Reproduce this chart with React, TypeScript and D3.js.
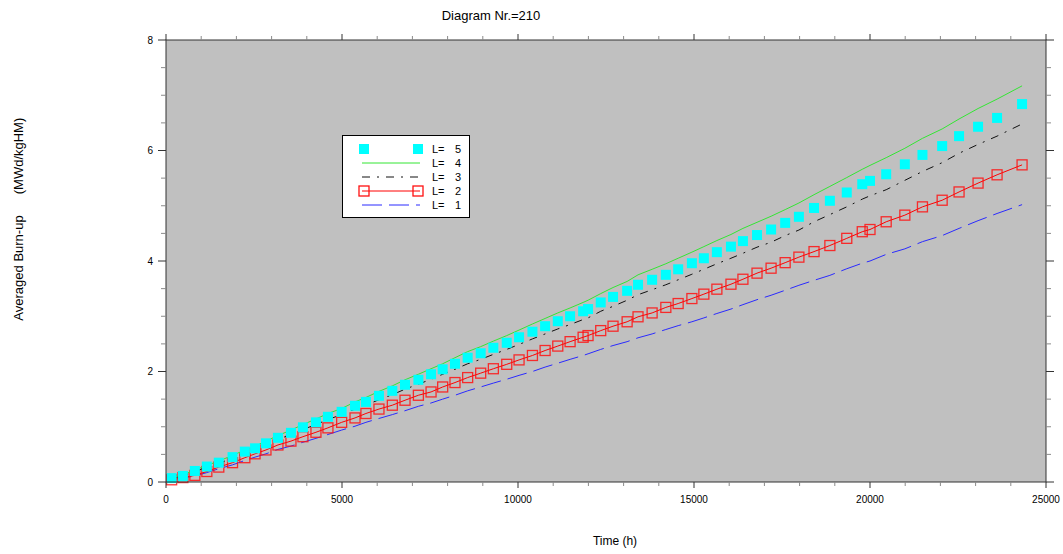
import React from "react";
import * as d3 from "d3";

// time steps (h), shared by all series
const time = [160, 480, 820, 1160, 1500, 1890, 2240, 2530, 2840, 3180,
  3550, 3890, 4260, 4600, 4990, 5370, 5680, 6050, 6430, 6790,
  7170, 7530, 7860, 8210, 8570, 8940, 9300, 9680, 10030, 10410,
  10770, 11130, 11480, 11850, 11990, 12350, 12700, 13100, 13410, 13810,
  14200, 14550, 14940, 15280, 15650, 16050, 16390, 16790, 17190, 17590,
  17980, 18410, 18860, 19340, 19780, 20000, 20460, 20990, 21490, 22050,
  22530, 23070, 23610, 24320];

const burnL5 = [0.07, 0.11, 0.20, 0.28, 0.35, 0.45, 0.55, 0.61, 0.70, 0.80,
  0.89, 0.99, 1.08, 1.18, 1.27, 1.38, 1.45, 1.56, 1.65, 1.76,
  1.85, 1.95, 2.04, 2.14, 2.25, 2.33, 2.43, 2.52, 2.62, 2.72,
  2.82, 2.91, 3.00, 3.09, 3.13, 3.25, 3.35, 3.46, 3.57, 3.66,
  3.75, 3.85, 3.96, 4.05, 4.16, 4.26, 4.36, 4.47, 4.57, 4.69,
  4.80, 4.96, 5.09, 5.24, 5.39, 5.45, 5.57, 5.75, 5.92, 6.08,
  6.26, 6.43, 6.59, 6.84];

const burnL4 = [0.08, 0.13, 0.22, 0.30, 0.38, 0.48, 0.58, 0.65, 0.74, 0.84,
  0.94, 1.04, 1.14, 1.24, 1.33, 1.45, 1.53, 1.64, 1.74, 1.85,
  1.95, 2.05, 2.14, 2.25, 2.36, 2.45, 2.55, 2.65, 2.75, 2.86,
  2.96, 3.06, 3.15, 3.25, 3.29, 3.41, 3.52, 3.63, 3.75, 3.85,
  3.95, 4.05, 4.16, 4.26, 4.37, 4.48, 4.59, 4.70, 4.81, 4.93,
  5.05, 5.20, 5.35, 5.51, 5.66, 5.73, 5.87, 6.04, 6.22, 6.39,
  6.57, 6.76, 6.93, 7.17];

const burnL3 = [0.07, 0.11, 0.19, 0.27, 0.34, 0.43, 0.53, 0.59, 0.67, 0.77,
  0.86, 0.95, 1.04, 1.13, 1.22, 1.32, 1.39, 1.49, 1.58, 1.68,
  1.77, 1.86, 1.95, 2.04, 2.14, 2.22, 2.31, 2.40, 2.49, 2.59,
  2.68, 2.77, 2.85, 2.94, 2.97, 3.09, 3.18, 3.29, 3.39, 3.48,
  3.57, 3.66, 3.76, 3.85, 3.95, 4.05, 4.14, 4.25, 4.34, 4.46,
  4.56, 4.71, 4.84, 4.98, 5.12, 5.18, 5.29, 5.46, 5.62, 5.78,
  5.95, 6.11, 6.26, 6.48];

const burnL2 = [0.04, 0.08, 0.12, 0.19, 0.27, 0.35, 0.44, 0.51, 0.58, 0.67,
  0.74, 0.82, 0.90, 0.98, 1.08, 1.16, 1.24, 1.32, 1.39, 1.48,
  1.57, 1.63, 1.72, 1.80, 1.89, 1.97, 2.05, 2.13, 2.21, 2.29,
  2.38, 2.46, 2.54, 2.62, 2.65, 2.74, 2.82, 2.90, 2.99, 3.06,
  3.16, 3.23, 3.32, 3.40, 3.49, 3.58, 3.67, 3.78, 3.87, 3.97,
  4.07, 4.17, 4.28, 4.41, 4.53, 4.57, 4.71, 4.83, 4.98, 5.10,
  5.25, 5.41, 5.56, 5.74];

const burnL1 = [0.04, 0.07, 0.11, 0.17, 0.24, 0.31, 0.39, 0.45, 0.51, 0.59,
  0.65, 0.72, 0.79, 0.86, 0.94, 1.01, 1.08, 1.15, 1.22, 1.29,
  1.37, 1.43, 1.50, 1.57, 1.65, 1.72, 1.79, 1.86, 1.93, 2.00,
  2.08, 2.15, 2.22, 2.29, 2.32, 2.40, 2.47, 2.54, 2.61, 2.68,
  2.76, 2.83, 2.90, 2.97, 3.05, 3.13, 3.21, 3.30, 3.38, 3.47,
  3.56, 3.65, 3.74, 3.86, 3.96, 4.00, 4.12, 4.22, 4.35, 4.46,
  4.59, 4.73, 4.86, 5.02];

const xTicks = [0, 5000, 10000, 15000, 20000, 25000];
const yTicks = [0, 2, 4, 6, 8];
const legendLabels = ["5", "4", "3", "2", "1"];

const W = 1063, H = 554;
const margin = { top: 40, left: 166, right: 17, bottom: 72 };
const FONT = "'Liberation Sans', Arial, sans-serif";

export default function App() {
  const x = d3.scaleLinear().domain([0, 25000]).range([margin.left, W - margin.right]);
  const y = d3.scaleLinear().domain([0, 8]).range([H - margin.bottom, margin.top]);
  const x0 = x.range()[0], x1 = x.range()[1];
  const y0 = y.range()[0], y1 = y.range()[1];

  const line = (vals: number[]) =>
    d3.line<number>().x((d, i) => x(time[i])).y(d => y(d))(vals) || "";

  const xMinor = d3.range(0, 25001, 1000);
  const yMinor = d3.range(0, 8.01, 0.5);
  const sq = 10;

  // legend placement
  const lg = { x: 342.5, y: 135.5, w: 127, h: 82, row: 14, first: 149, l0: 362, l1: 420 };

  return (
    <svg width={W} height={H} style={{ position: "absolute", left: 0, top: 0, background: "#fff" }}
      fontFamily={FONT}>
      <text x={491} y={20} fontSize={13} textAnchor="middle" fill="#000">Diagram Nr.=210</text>

      <rect x={x0} y={y1} width={x1 - x0} height={y0 - y1} fill="#c0c0c0" />

      {/* series */}
      <path d={line(burnL1)} fill="none" stroke="#2a2aff" strokeWidth={1} strokeDasharray="20,7" />
      <path d={line(burnL2)} fill="none" stroke="#ff0000" strokeWidth={1} />
      {burnL2.map((v, i) => (
        <rect key={"r" + i} x={x(time[i]) - sq / 2} y={y(v) - sq / 2} width={sq} height={sq}
          fill="none" stroke="#ff1010" strokeWidth={1.3} strokeOpacity={0.85} />
      ))}
      <path d={line(burnL3)} fill="none" stroke="#111" strokeWidth={1} strokeDasharray="8,7,2,7" />
      <path d={line(burnL4)} fill="none" stroke="#33e633" strokeWidth={1} />
      {burnL5.map((v, i) => (
        <rect key={"c" + i} x={x(time[i]) - sq / 2} y={y(v) - sq / 2} width={sq} height={sq} fill="#00ffff" />
      ))}

      {/* frame */}
      <rect x={x0} y={y1} width={x1 - x0} height={y0 - y1} fill="none" stroke="#333" strokeWidth={1} />

      {/* x ticks bottom + top */}
      {xMinor.map(t => {
        const major = t % 5000 === 0;
        const len = major ? 6 : 4;
        return (
          <g key={"xt" + t} stroke={major ? "#333" : "#8a8a8a"}>
            <line x1={x(t)} x2={x(t)} y1={y0} y2={y0 + len} />
            <line x1={x(t)} x2={x(t)} y1={y1} y2={y1 - len} />
          </g>
        );
      })}
      {xTicks.map(t => (
        <text key={"xl" + t} x={x(t)} y={y0 + 21} fontSize={10} textAnchor="middle">{t}</text>
      ))}

      {/* y ticks left + right */}
      {yMinor.map(v => {
        const major = Math.abs(v % 2) < 1e-6;
        const len = major ? 8 : 5;
        return (
          <g key={"yt" + v} stroke={major ? "#333" : "#8a8a8a"}>
            <line x1={x0} x2={x0 - len} y1={y(v)} y2={y(v)} />
            <line x1={x1} x2={x1 + len} y1={y(v)} y2={y(v)} />
          </g>
        );
      })}
      {yTicks.map(v => (
        <text key={"yl" + v} x={x0 - 13} y={y(v)} dy="0.35em" fontSize={10} textAnchor="end">{v}</text>
      ))}

      <text x={615} y={545} fontSize={12} textAnchor="middle">Time (h)</text>
      <g transform="translate(23,0) rotate(-90)">
        <text x={-268} y={0} fontSize={13} textAnchor="middle">Averaged Burn-up</text>
        <text x={-156} y={0} fontSize={13} textAnchor="middle">(MWd/kgHM)</text>
      </g>

      {/* legend */}
      <rect x={lg.x} y={lg.y} width={lg.w} height={lg.h} fill="#fff" stroke="#000" strokeWidth={1} />
      {legendLabels.map((lab, i) => {
        const yy = lg.first + i * lg.row;
        let mark: React.ReactNode = null;
        if (lab === "5") {
          mark = (
            <g fill="#00ffff">
              <rect x={lg.l0 - 3} y={yy - 5} width={10} height={10} />
              <rect x={lg.l1 - 7} y={yy - 5} width={10} height={10} />
            </g>
          );
        } else if (lab === "4") {
          mark = <line x1={lg.l0} x2={lg.l1} y1={yy} y2={yy} stroke="#33e633" />;
        } else if (lab === "3") {
          mark = <line x1={lg.l0} x2={lg.l1} y1={yy} y2={yy} stroke="#111" strokeDasharray="8,7,2,7" />;
        } else if (lab === "2") {
          mark = (
            <g>
              <line x1={lg.l0} x2={lg.l1} y1={yy} y2={yy} stroke="#ff0000" />
              <rect x={lg.l0 - 3} y={yy - 5} width={10} height={10} fill="none" stroke="#ff1010" strokeWidth={1.3} />
              <rect x={lg.l1 - 7} y={yy - 5} width={10} height={10} fill="none" stroke="#ff1010" strokeWidth={1.3} />
            </g>
          );
        } else {
          mark = <line x1={lg.l0} x2={lg.l1} y1={yy} y2={yy} stroke="#2a2aff" strokeDasharray="20,7" />;
        }
        return (
          <g key={"lg" + lab}>
            {mark}
            <text x={432} y={yy} dy="0.35em" fontSize={11}>L=</text>
            <text x={455} y={yy} dy="0.35em" fontSize={11}>{lab}</text>
          </g>
        );
      })}
    </svg>
  );
}
